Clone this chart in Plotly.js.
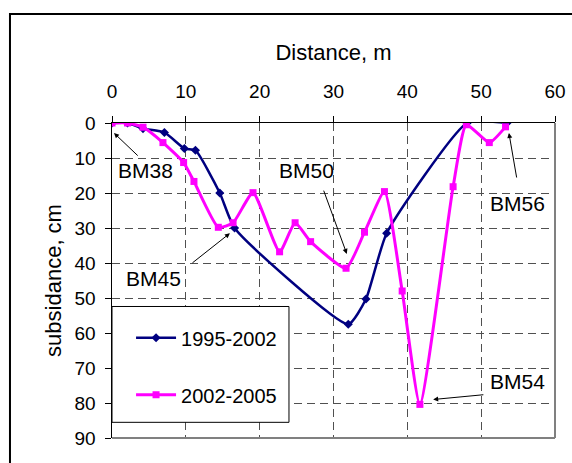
<!DOCTYPE html>
<html>
<head>
<meta charset="utf-8">
<script src="https://cdn.plot.ly/plotly-3.0.1.min.js"></script>
<style>html,body{margin:0;padding:0;background:#fff;}#chart{width:572px;height:463px;}</style>
</head>
<body>
<div id="chart"></div>
<script>
// Series 1995-2002
var dist1995 = [0, 2.1, 4.2, 7.1, 9.8, 11.3, 14.6, 16.6, 32.0, 34.4, 37.2, 48.1, 53.5];
var subs1995 = [0, 0, 1.6, 2.7, 7.3, 7.8, 20.0, 30.0, 57.5, 50.3, 31.5, 0, 0];
// Series 2002-2005
var dist2002 = [0, 2.1, 4.2, 6.9, 9.7, 11.1, 14.4, 16.4, 19.1, 22.7, 24.8, 26.9, 31.7, 34.2, 36.9, 39.3, 41.7, 46.2, 48.0, 51.1, 53.3];
var subs2002 = [0, 0, 1.2, 5.6, 11.3, 16.7, 29.8, 28.5, 19.9, 36.8, 28.5, 33.9, 41.5, 31.2, 19.6, 48.0, 80.4, 18.2, 0.5, 5.6, 1.1];
var seriesNames = ["1995-2002", "2002-2005"];
var xTicks = [0, 10, 20, 30, 40, 50, 60];
var yTicks = [0, 10, 20, 30, 40, 50, 60, 70, 80, 90];
var labels = ["BM38", "BM45", "BM50", "BM56", "BM54"];

var FONT = "Liberation Sans, Arial, sans-serif";

var traces = [
  {x: dist1995, y: subs1995, name: seriesNames[0], type: "scatter", mode: "lines+markers",
   line: {color: "#000080", width: 2.5, shape: "spline", smoothing: 0.5},
   marker: {symbol: "diamond", size: 7, color: "#000080"},
   legendgroup: "a"},
  {x: dist2002, y: subs2002, name: seriesNames[1], type: "scatter", mode: "lines+markers",
   line: {color: "#FF00FF", width: 3, shape: "spline", smoothing: 0.5},
   marker: {symbol: "square", size: 7, color: "#FF00FF"},
   legendgroup: "b"}
];

// label text positions and arrow geometry (data coords)
var txtPos = [[4.6, 13.5], [5.68, 44.4], [26.3, 13.5], [54.87, 23.1], [54.87, 73.9]];
var arrows = [
  [[3.69, 9.73], [0.27, 2.86]],
  [[10.69, 40.3], [15.97, 31.5]],
  [[28.6, 18.9], [31.8, 37.4]],
  [[54.84, 16.0], [53.76, 2.86]],
  [[50.5, 77.6], [43.5, 79.0]]
];
var annotations = [];
for (var i = 0; i < labels.length; i++) {
  annotations.push({x: txtPos[i][0], y: txtPos[i][1], xref: "x", yref: "y", text: labels[i],
    showarrow: false, font: {family: FONT, size: 21, color: "#000"}, xanchor: "center", yanchor: "middle"});
  annotations.push({x: arrows[i][1][0], y: arrows[i][1][1], ax: arrows[i][0][0], ay: arrows[i][0][1],
    xref: "x", yref: "y", axref: "x", ayref: "y", text: "", showarrow: true,
    arrowhead: 2, arrowsize: 1, arrowwidth: 1, arrowcolor: "#000", standoff: 0, startstandoff: 0});
}

var layout = {
  width: 572, height: 463, autosize: false,
  margin: {l: 112, r: 17, t: 123, b: 25, pad: 0},
  paper_bgcolor: "#fff", plot_bgcolor: "#fff",
  font: {family: FONT, size: 19, color: "#000"},
  showlegend: true,
  legend: {x: 0.043, y: 0.38, xanchor: "left", yanchor: "top", bgcolor: "rgba(0,0,0,0)", borderwidth: 0,
    font: {family: FONT, size: 20, color: "#000"}, traceorder: "grouped", tracegroupgap: 28, itemwidth: 40},
  xaxis: {side: "top", range: [0, 60], tickvals: xTicks, ticktext: xTicks.map(String),
    ticks: "outside", ticklen: 6, tickcolor: "#000", showline: true, linecolor: "#000", linewidth: 1.5,
    ticklabelstandoff: 10,
    showgrid: true, gridcolor: "#505050", griddash: "8px,5px", gridwidth: 1, zeroline: false,
    title: {text: "Distance, m", font: {family: FONT, size: 22}, standoff: 14},
    tickfont: {family: FONT, size: 19}, fixedrange: true},
  yaxis: {range: [90, 0], tickvals: yTicks, ticktext: yTicks.map(String),
    ticks: "outside", ticklen: 6, tickcolor: "#000", showline: true, linecolor: "#000", linewidth: 1.5,
    ticklabelstandoff: 5,
    showgrid: true, gridcolor: "#505050", griddash: "8px,5px", gridwidth: 1, zeroline: false,
    title: {text: "subsidance, cm", font: {family: FONT, size: 22}, standoff: 7},
    tickfont: {family: FONT, size: 19}, fixedrange: true},
  shapes: [
    {type: "line", xref: "paper", yref: "paper", x0: 1, x1: 1, y0: 0, y1: 1, line: {color: "#808080", width: 2}},
    {type: "line", xref: "paper", yref: "paper", x0: 0, x1: 1, y0: 0, y1: 0, line: {color: "#808080", width: 2}},
    {type: "rect", xref: "paper", yref: "paper", x0: -0.2303, x1: 1.06, y0: -0.12, y1: 1.346,
     line: {color: "#000", width: 2}, fillcolor: "rgba(0,0,0,0)", layer: "above"},
    {type: "rect", xref: "paper", yref: "paper", x0: 0, x1: 0.3995, y0: 0.0498, y1: 0.4175,
     line: {color: "#000", width: 1}, fillcolor: "#fff", layer: "above"}
  ],
  annotations: annotations
};

Plotly.newPlot("chart", traces, layout, {displayModeBar: false, staticPlot: true});
</script>
</body>
</html>
